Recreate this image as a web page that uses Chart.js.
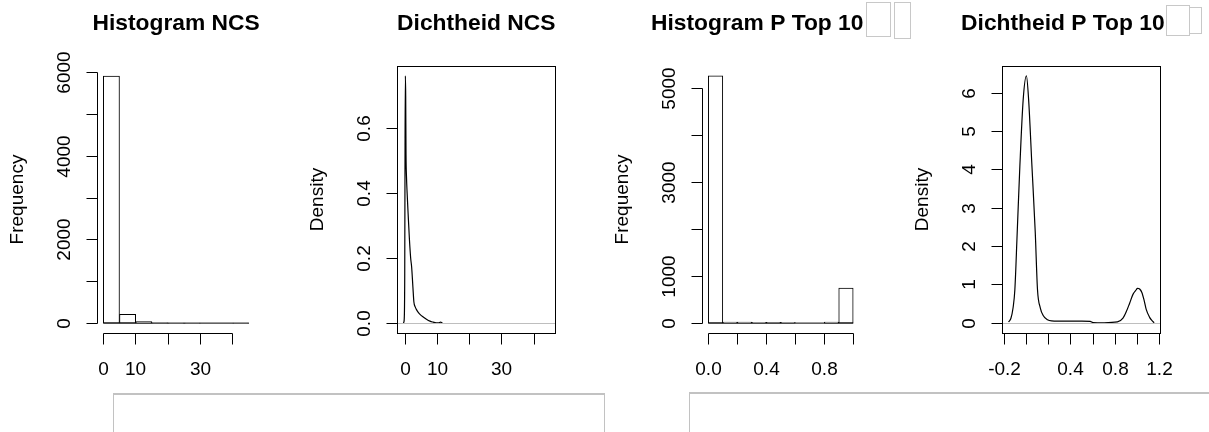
<!DOCTYPE html>
<html>
<head>
<meta charset="utf-8">
<script src="https://cdn.jsdelivr.net/npm/chart.js@4/dist/chart.umd.min.js"></script>
<style>
  html, body { margin: 0; padding: 0; background: #fff; width: 1209px; height: 432px; overflow: hidden; }
  .layer { position: absolute; left: 0; top: 0; }
  .frame { position: absolute; border: 1px solid #c2c2c2; border-top-width: 2px; box-sizing: border-box; }
</style>
</head>
<body>
<canvas id="histNcs" class="layer" width="1209" height="432"></canvas>
<canvas id="densNcs" class="layer" width="1209" height="432"></canvas>
<canvas id="histP" class="layer" width="1209" height="432"></canvas>
<canvas id="densP" class="layer" width="1209" height="432"></canvas>
<div class="frame" style="left:113px; top:393px; width:492px; height:60px;"></div>
<div class="frame" style="left:689px; top:392px; width:540px; height:60px;"></div>
<script>
// ---- NCS ----
const ncsBreaks = [0, 5, 10, 15, 20, 25, 30, 35, 40, 45];
const ncsCounts = [5928, 209, 34, 6, 2, 1, 0, 0, 1];
const ncsDensX = [-0.68, -0.5, -0.35, -0.25, -0.15, -0.05, 0.05, 0.15, 0.3, 0.5, 0.8, 1.2, 1.6, 1.9, 2.3, 2.6, 3.0, 3.5, 3.9, 4.5, 5.5, 6.5, 7.6, 8.6, 9.5, 10.3, 10.9, 11.5];
const ncsDensY = [0.0, 0.004, 0.03, 0.15, 0.55, 0.762, 0.70, 0.52, 0.45, 0.40, 0.338, 0.26, 0.20, 0.173, 0.11, 0.065, 0.05, 0.04, 0.034, 0.027, 0.019, 0.012, 0.006, 0.003, 0.001, 0.001, 0.003, 0.0];
const ncsXTicks = [0, 10, 20, 30, 40];
const ncsXLabels = ['0', '10', '', '30', ''];
const ncsHistYTicks = [0, 1000, 2000, 3000, 4000, 5000, 6000];
const ncsHistYLabels = ['0', '', '2000', '', '4000', '', '6000'];
const ncsDensYTicks = [0, 0.2, 0.4, 0.6];
const ncsDensYLabels = ['0.0', '0.2', '0.4', '0.6'];

// ---- P Top 10 ----
const pBreaks = [0, 0.1, 0.2, 0.3, 0.4, 0.5, 0.6, 0.7, 0.8, 0.9, 1.0];
const pCounts = [5263, 24, 20, 19, 17, 18, 0, 0, 21, 745];
const pDensX = [-0.161, -0.14, -0.12, -0.104, -0.083, -0.059, -0.029, 0.0, 0.02, 0.05, 0.08, 0.1, 0.125, 0.151, 0.19, 0.227, 0.35, 0.5, 0.575, 0.6, 0.7, 0.82, 0.87, 0.9, 0.93, 0.96, 0.99, 1.0, 1.02, 1.04, 1.06, 1.08, 1.11, 1.13, 1.151];
const pDensY = [0.03, 0.12, 0.4, 0.87, 2.35, 4.09, 5.83, 6.45, 5.83, 4.09, 2.35, 0.87, 0.4, 0.2, 0.09, 0.06, 0.05, 0.05, 0.045, 0.015, 0.01, 0.03, 0.13, 0.3, 0.52, 0.75, 0.87, 0.91, 0.89, 0.8, 0.6, 0.35, 0.15, 0.07, 0.01];
const pHistXTicks = [0, 0.2, 0.4, 0.6, 0.8, 1.0];
const pHistXLabels = ['0.0', '', '0.4', '', '0.8', ''];
const pHistYTicks = [0, 1000, 2000, 3000, 4000, 5000];
const pHistYLabels = ['0', '1000', '', '3000', '', '5000'];
const pDensXTicks = [-0.2, 0, 0.2, 0.4, 0.6, 0.8, 1.0, 1.2];
const pDensXLabels = ['-0.2', '', '', '0.4', '', '0.8', '', '1.2'];
const pDensYTicks = [0, 1, 2, 3, 4, 5, 6];
const pDensYLabels = ['0', '1', '2', '3', '4', '5', '6'];

const FONT = '"Liberation Sans", Arial, sans-serif';
const TICK = 11;
const W = 1209, H = 432;

// Base-graphics style frame: title, axis lines, outward ticks, rotated y labels
const rFrame = {
  id: 'rFrame',
  afterDatasetsDraw(chart, _args, o) {
    const ctx = chart.ctx, a = chart.chartArea;
    const xs = chart.scales.x, ys = chart.scales.y;
    const snap = v => Math.round(v - 0.5) + 0.5;
    ctx.save();
    ctx.lineWidth = 1;
    if (o.zeroLine) {
      const y0 = snap(ys.getPixelForValue(0));
      ctx.strokeStyle = '#bebebe';
      ctx.beginPath(); ctx.moveTo(a.left, y0); ctx.lineTo(a.right, y0); ctx.stroke();
    }
    ctx.strokeStyle = '#000';
    ctx.fillStyle = '#000';
    const L = snap(a.left), R = snap(a.right), T = snap(a.top), B = snap(a.bottom);
    if (o.box) ctx.strokeRect(L, T, R - L, B - T);
    const xp = o.xTicks.map(v => snap(xs.getPixelForValue(v)));
    const yp = o.yTicks.map(v => snap(ys.getPixelForValue(v)));
    ctx.beginPath();
    if (!o.box) {
      ctx.moveTo(xp[0], B); ctx.lineTo(xp[xp.length - 1], B);
      ctx.moveTo(L, yp[0]); ctx.lineTo(L, yp[yp.length - 1]);
    }
    xp.forEach(p => { ctx.moveTo(p, B); ctx.lineTo(p, B + TICK); });
    yp.forEach(p => { ctx.moveTo(L, p); ctx.lineTo(L - TICK, p); });
    ctx.stroke();

    ctx.font = '19px ' + FONT;
    ctx.textAlign = 'center';
    ctx.textBaseline = 'alphabetic';
    o.xLabels.forEach((t, i) => { if (t) ctx.fillText(t, xp[i], a.bottom + 42); });
    o.yLabels.forEach((t, i) => {
      if (!t) return;
      ctx.save(); ctx.translate(a.left - 28, yp[i]); ctx.rotate(-Math.PI / 2); ctx.fillText(t, 0, 0); ctx.restore();
    });
    ctx.save();
    ctx.translate(a.left - 75, (a.top + a.bottom) / 2);
    ctx.rotate(-Math.PI / 2);
    ctx.fillText(o.ylab, 0, 0);
    ctx.restore();

    ctx.font = 'bold 22.8px ' + FONT;
    const tw = ctx.measureText(o.title).width;
    const tofu = o.tofu || [];
    const group = tw + tofu.reduce((s, b) => s + b.gap + b.w, 0);
    let x = (a.left + a.right) / 2 - group / 2;
    ctx.textAlign = 'left';
    ctx.fillText(o.title, x, 29.5);
    x += tw;
    ctx.strokeStyle = '#c8c8c8';
    tofu.forEach(b => {
      x += b.gap;
      ctx.strokeRect(snap(x), snap(b.top), Math.round(b.w), Math.round(b.h));
      x += b.w;
    });
    ctx.restore();
  }
};

function linearAxis(min, max, ticks) {
  return {
    type: 'linear', min, max, display: false, offset: false,
    afterBuildTicks: s => { s.ticks = ticks.map(v => ({ value: v })); }
  };
}

function pad(left, right, top, bottom) {
  return { left, right: W - right, top, bottom: H - bottom };
}

function histogram(id, breaks, counts, area, xr, yr, frame) {
  const bins = counts.map((c, i) => ({ x: (breaks[i] + breaks[i + 1]) / 2, y: c }));
  new Chart(document.getElementById(id), {
    type: 'bar',
    data: {
      datasets: [
        { type: 'line', data: [{ x: breaks[0], y: 0 }, { x: breaks[breaks.length - 1], y: 0 }],
          borderColor: '#000', borderWidth: 1, pointRadius: 0 },
        { type: 'bar', data: bins, backgroundColor: '#fff', borderColor: '#000', borderWidth: 1,
          borderSkipped: false, barPercentage: 1, categoryPercentage: 1 }
      ]
    },
    options: {
      responsive: false, animation: false, events: [],
      layout: { padding: area },
      plugins: { legend: { display: false }, tooltip: { enabled: false }, rFrame: frame },
      scales: { x: linearAxis(xr[0], xr[1], frame.xTicks), y: linearAxis(yr[0], yr[1], frame.yTicks) }
    },
    plugins: [rFrame]
  });
}

function density(id, xs, ys, area, xr, yr, frame) {
  new Chart(document.getElementById(id), {
    type: 'line',
    data: {
      datasets: [{
        data: xs.map((x, i) => ({ x, y: ys[i] })),
        borderColor: '#000', borderWidth: 1.2, pointRadius: 0,
        cubicInterpolationMode: 'monotone', fill: false
      }]
    },
    options: {
      responsive: false, animation: false, events: [],
      layout: { padding: area },
      plugins: { legend: { display: false }, tooltip: { enabled: false }, rFrame: frame },
      scales: { x: linearAxis(xr[0], xr[1], frame.xTicks), y: linearAxis(yr[0], yr[1], frame.yTicks) }
    },
    plugins: [rFrame]
  });
}

histogram('histNcs', ncsBreaks, ncsCounts, pad(97.5, 254.7, 66, 333), [-1.8, 46.8], [-237.2, 6167.2], {
  title: 'Histogram NCS', ylab: 'Frequency',
  xTicks: ncsXTicks, xLabels: ncsXLabels, yTicks: ncsHistYTicks, yLabels: ncsHistYLabels
});

density('densNcs', ncsDensX, ncsDensY, pad(397.5, 555, 66, 333), [-2.5, 46.5], [-0.0305, 0.7925], {
  title: 'Dichtheid NCS', ylab: 'Density', box: true, zeroLine: true,
  xTicks: ncsXTicks, xLabels: ncsXLabels, yTicks: ncsDensYTicks, yLabels: ncsDensYLabels
});

histogram('histP', pBreaks, pCounts, pad(702.5, 859, 66, 333), [-0.04, 1.04], [-210.5, 5473.5], {
  title: 'Histogram P Top 10', ylab: 'Frequency',
  tofu: [{ gap: 3, w: 24, top: 2, h: 34 }, { gap: 4, w: 16, top: 2, h: 36 }],
  xTicks: pHistXTicks, xLabels: pHistXLabels, yTicks: pHistYTicks, yLabels: pHistYLabels
});

density('densP', pDensX, pDensY, pad(1002.7, 1160, 66, 333), [-0.2135, 1.2035], [-0.258, 6.708], {
  title: 'Dichtheid P Top 10', ylab: 'Density', box: true, zeroLine: true,
  tofu: [{ gap: 2, w: 23, top: 5, h: 30 }, { gap: 0, w: 12, top: 7, h: 26 }],
  xTicks: pDensXTicks, xLabels: pDensXLabels, yTicks: pDensYTicks, yLabels: pDensYLabels
});
</script>
</body>
</html>
